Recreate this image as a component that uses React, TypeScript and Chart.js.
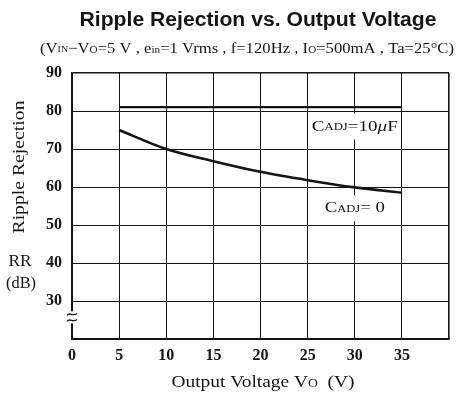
import React, { useEffect, useRef } from "react";
import { Chart, registerables } from "chart.js";

Chart.register(...registerables);

const outputVoltage = [5, 10, 15, 20, 25, 30, 35];
const rrCadj0 = [75, 70, 66.8, 64, 61.8, 59.9, 58.5];
const rrCadj10 = [81, 81, 81, 81, 81, 81, 81];
const xTickValues = [0, 5, 10, 15, 20, 25, 30, 35, 40];
const xTickLabels = ["0", "5", "10", "15", "20", "25", "30", "35", ""];
const yTickValues = [20, 30, 40, 50, 60, 70, 80, 90];
const yTickLabels = ["", "30", "40", "50", "60", "70", "80", "90"];

const INK = "#141414";
const SERIF = '"Liberation Serif", "DejaVu Serif", serif';
const SANS = '"Liberation Sans", Arial, sans-serif';

type Seg = { t: string; size: number; bold?: boolean; italic?: boolean; dy?: number; family?: string };

function segFont(s: Seg) {
  return `${s.italic ? "italic " : ""}${s.bold ? "bold " : ""}${s.size}px ${s.family || SERIF}`;
}

function drawRich(ctx: CanvasRenderingContext2D, segs: Seg[], cx: number, cy: number, targetW?: number, rotate?: boolean) {
  ctx.save();
  let w = 0;
  for (const s of segs) {
    ctx.font = segFont(s);
    w += ctx.measureText(s.t).width;
  }
  const sx = targetW ? targetW / w : 1;
  ctx.translate(cx, cy);
  if (rotate) ctx.rotate(-Math.PI / 2);
  ctx.scale(sx, 1);
  ctx.textBaseline = "middle";
  ctx.textAlign = "left";
  ctx.fillStyle = INK;
  let x = -w / 2;
  for (const s of segs) {
    ctx.font = segFont(s);
    ctx.fillText(s.t, x, s.dy || 0);
    x += ctx.measureText(s.t).width;
  }
  ctx.restore();
}

const decorPlugin = {
  id: "decor",
  afterDatasetsDraw(chart: any) {
    const ctx: CanvasRenderingContext2D = chart.ctx;
    const xs = chart.scales.x;
    const ys = chart.scales.y;
    const area = chart.chartArea;

    // curve labels with white background
    const labels = [
      { x: 30, y: 75.9, w: 86, segs: [
        { t: "C", size: 15 }, { t: "ADJ", size: 10, dy: 1 }, { t: "=10", size: 15 },
        { t: "μ", size: 15, italic: true }, { t: "F", size: 15 },
      ] as Seg[] },
      { x: 30, y: 54.4, w: 60, segs: [
        { t: "C", size: 15 }, { t: "ADJ", size: 10, dy: 1 }, { t: "= 0", size: 15 },
      ] as Seg[] },
    ];
    for (const l of labels) {
      const px = xs.getPixelForValue(l.x);
      const py = ys.getPixelForValue(l.y);
      ctx.save();
      ctx.fillStyle = "#fff";
      ctx.fillRect(px - l.w / 2 - 2, py - 13, l.w + 4, 26);
      ctx.restore();
      drawRich(ctx, l.segs, px, py, l.w);
    }

    // axis break mark
    const cyb = ys.getPixelForValue(25.7);
    const lx = area.left;
    ctx.save();
    ctx.fillStyle = "#fff";
    ctx.fillRect(lx - 3, cyb - 6, 6, 12);
    ctx.strokeStyle = INK;
    ctx.lineWidth = 1.3;
    for (const off of [-3, 3]) {
      ctx.beginPath();
      ctx.moveTo(lx - 5, cyb + off + 1);
      ctx.bezierCurveTo(lx - 2, cyb + off - 3, lx + 1, cyb + off + 3, lx + 5, cyb + off - 1);
      ctx.stroke();
    }
    ctx.restore();
  },
  afterDraw(chart: any) {
    const ctx: CanvasRenderingContext2D = chart.ctx;
    drawRich(ctx, [{ t: "Ripple Rejection vs. Output Voltage", size: 20, bold: true, family: SANS }], 258, 20, 357);
    drawRich(ctx, [
      { t: "(V", size: 15 }, { t: "IN", size: 9, dy: 1 }, { t: "−V", size: 15 }, { t: "O", size: 10, dy: 1 },
      { t: "=5 V , e", size: 15 }, { t: "in", size: 10, dy: 1 }, { t: "=1 Vrms , f=120Hz , I", size: 15 },
      { t: "O", size: 10, dy: 1 }, { t: "=500mA , Ta=25°C)", size: 15 },
    ], 247, 49, 414);
    drawRich(ctx, [{ t: "Ripple Rejection", size: 17 }], 20, 167, 133, true);
    drawRich(ctx, [{ t: "RR", size: 17 }], 20, 262, 23);
    drawRich(ctx, [{ t: "(dB)", size: 17 }], 21, 284, 30);
    drawRich(ctx, [
      { t: "Output Voltage V", size: 17 }, { t: "O", size: 12, dy: 1 }, { t: "  (V)", size: 17 },
    ], 263, 383, 183);
  },
};

export default function App() {
  const ref = useRef<HTMLCanvasElement>(null);
  useEffect(() => {
    if (!ref.current) return;
    const tickFont = { family: SERIF, size: 16, weight: "bold" as const };
    const chart = new Chart(ref.current, {
      type: "line",
      data: {
        datasets: [
          {
            label: "CADJ=10μF",
            data: outputVoltage.map((v, i) => ({ x: v, y: rrCadj10[i] })),
            borderColor: INK,
            borderWidth: 2.2,
            pointRadius: 0,
            tension: 0,
          },
          {
            label: "CADJ=0",
            data: outputVoltage.map((v, i) => ({ x: v, y: rrCadj0[i] })),
            borderColor: INK,
            borderWidth: 2.6,
            pointRadius: 0,
            cubicInterpolationMode: "monotone",
          },
        ],
      },
      options: {
        responsive: false,
        animation: false,
        layout: { padding: { top: 73, right: 6, left: 0, bottom: 0 } },
        plugins: { legend: { display: false }, tooltip: { enabled: false }, title: { display: false } },
        scales: {
          x: {
            type: "linear",
            min: 0,
            max: 40,
            afterBuildTicks: (s: any) => { s.ticks = xTickValues.map((v) => ({ value: v })); },
            afterFit: (s: any) => { s.height = 62; },
            ticks: {
              autoSkip: false,
              maxRotation: 0,
              padding: 7,
              color: INK,
              font: tickFont,
              callback: (v: any) => xTickLabels[xTickValues.indexOf(Number(v))] ?? "",
            },
            grid: {
              color: INK,
              lineWidth: (c: any) => (c.tick && c.tick.value === 40 ? 1.6 : 1),
              drawTicks: false,
            },
            border: { display: true, color: INK, width: 1.6 },
          },
          y: {
            type: "linear",
            min: 20,
            max: 90,
            afterBuildTicks: (s: any) => { s.ticks = yTickValues.map((v) => ({ value: v })); },
            afterFit: (s: any) => { s.width = 72; },
            ticks: {
              autoSkip: false,
              padding: 10,
              color: INK,
              font: tickFont,
              callback: (v: any) => yTickLabels[yTickValues.indexOf(Number(v))] ?? "",
            },
            grid: {
              color: INK,
              lineWidth: (c: any) => (c.tick && c.tick.value === 90 ? 1.6 : 1),
              drawTicks: false,
            },
            border: { display: true, color: INK, width: 1.6 },
          },
        },
      },
      plugins: [decorPlugin],
    });
    return () => chart.destroy();
  }, []);
  return (
    <div style={{ position: "fixed", left: 0, top: 0, width: 456, height: 401, background: "#fff" }}>
      <canvas ref={ref} width={456} height={401} style={{ display: "block" }} />
    </div>
  );
}
